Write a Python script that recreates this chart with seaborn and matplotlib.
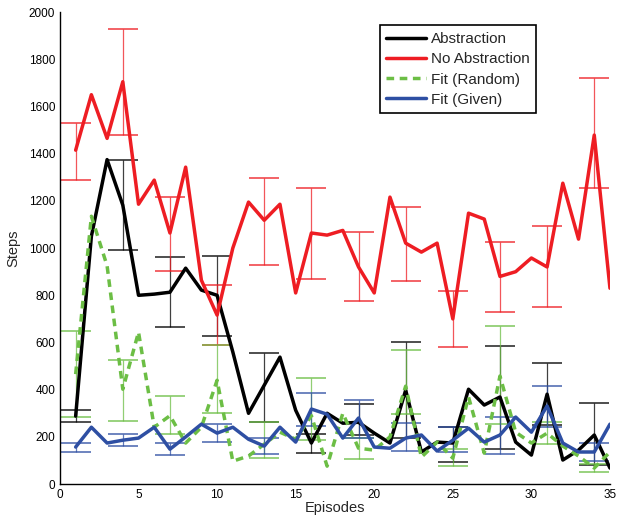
import numpy as np
import pandas as pd
import matplotlib
matplotlib.use("Agg")
import matplotlib.pyplot as plt
import seaborn as sns

# Episodes and mean steps per method
episodes = list(range(1, 36))
abstraction = [288, 1050, 1375, 1182, 800, 805, 813, 915, 822, 800, 560, 300, 419, 538, 313,
               174, 300, 258, 262, 216, 174, 398, 136, 178, 174, 402, 335, 369, 178, 123,
               381, 102, 144, 208, 68]
no_abstraction = [1415, 1650, 1465, 1705, 1186, 1288, 1064, 1343, 864, 716, 1000, 1195, 1118,
                  1186, 810, 1064, 1055, 1075, 920, 810, 1216, 1021, 983, 1021, 700, 1148,
                  1123, 880, 900, 958, 920, 1275, 1038, 1479, 830]
fit_random = [466, 1135, 925, 402, 644, 241, 290, 174, 241, 440, 97, 119, 169, 220, 190,
              290, 76, 300, 152, 144, 200, 415, 114, 178, 110, 369, 131, 458, 220, 174,
              216, 161, 119, 68, 136]
fit_given = [157, 241, 174, 186, 195, 241, 148, 200, 254, 216, 241, 190, 161, 241, 178,
             318, 296, 195, 280, 157, 152, 195, 208, 140, 186, 237, 178, 208, 284, 220,
             331, 174, 136, 136, 254]

# Error bars every third episode (lower, upper)
err_episodes = [1, 4, 7, 10, 13, 16, 19, 22, 25, 28, 31, 34]
abs_lo = [263, 990, 665, 627, 263, 131, 208, 194, 93, 148, 250, 80]
abs_hi = [313, 1373, 962, 966, 555, 212, 339, 602, 242, 585, 513, 345]
noabs_lo = [1290, 1480, 902, 589, 930, 870, 775, 860, 580, 730, 750, 1255]
noabs_hi = [1532, 1930, 1216, 843, 1295, 1254, 1068, 1174, 820, 1025, 1093, 1720]
rand_lo = [284, 267, 212, 300, 110, 186, 106, 296, 76, 254, 169, 51]
rand_hi = [648, 525, 373, 589, 263, 449, 195, 568, 148, 669, 263, 86]
given_lo = [136, 161, 123, 178, 127, 246, 195, 140, 136, 127, 242, 97]
given_hi = [174, 212, 174, 254, 195, 386, 356, 258, 242, 284, 415, 174]

labels = ["Abstraction", "No Abstraction", "Fit (Random)", "Fit (Given)"]
colors = ["#000000", "#EE1D23", "#6CBE45", "#2E4FA3"]

sns.set_style("white")
plt.rcParams['font.family'] = ['Liberation Sans', 'DejaVu Sans']

fig = plt.figure(figsize=(6.18, 5.15), dpi=100)
ax = fig.add_axes([0.097, 0.060, 0.890, 0.9165])

series = [abstraction, no_abstraction, fit_random, fit_given]
errs = [(abs_lo, abs_hi), (noabs_lo, noabs_hi), (rand_lo, rand_hi), (given_lo, given_hi)]

# Error bars first, lines on top
for (lo, hi), c in zip(errs, colors):
    lo = np.array(lo)
    hi = np.array(hi)
    ax.errorbar(err_episodes, (lo + hi) / 2, yerr=(hi - lo) / 2, fmt="none",
                ecolor=c, elinewidth=0.9, capsize=11, capthick=1.3, alpha=0.75)

for vals, lab, c in zip(series, labels, colors):
    df = pd.DataFrame({"Episodes": episodes, "Steps": vals})
    sns.lineplot(data=df, x="Episodes", y="Steps", color=c, lw=2.5, label=lab, ax=ax)
    if lab == "Fit (Random)":
        ax.lines[-1].set_dashes((2.2, 1.6))

ax.set_xlim(0, 35)
ax.set_ylim(0, 2000)
ax.set_xticks(range(0, 36, 5))
ax.set_yticks(range(0, 2001, 200))
ax.tick_params(direction="in", length=5, width=1, labelsize=8.5, colors="black")
ax.set_xlabel("Episodes", fontsize=10.5, labelpad=0)
ax.set_ylabel("Steps", fontsize=10.5, labelpad=6)
for side in ["top", "right"]:
    ax.spines[side].set_visible(False)
for side in ["left", "bottom"]:
    ax.spines[side].set_color("black")
    ax.spines[side].set_linewidth(1)

leg = ax.legend(loc="upper right", bbox_to_anchor=(0.88, 0.988), fontsize=11,
                frameon=True, fancybox=False, edgecolor="black", handlelength=2.6,
                borderpad=0.45, labelspacing=0.4, handletextpad=0.3)
leg.get_frame().set_linewidth(1.2)
leg.get_frame().set_alpha(1)

fig.savefig("out.png", dpi=100)
